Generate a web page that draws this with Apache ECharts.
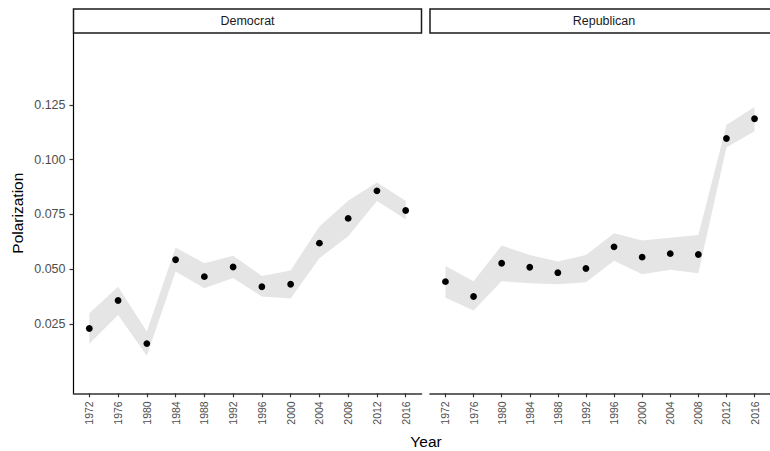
<!DOCTYPE html>
<html>
<head>
<meta charset="utf-8">
<script src="https://cdn.jsdelivr.net/npm/echarts@6/dist/echarts.min.js"></script>
<style>
html,body{margin:0;padding:0;background:#fff;}
#chart{width:770px;height:451px;}
</style>
</head>
<body>
<div id="chart"></div>
<script>
var years = [1972, 1976, 1980, 1984, 1988, 1992, 1996, 2000, 2004, 2008, 2012, 2016];
var yTicks = [0.025, 0.05, 0.075, 0.1, 0.125];
var panels = ['Democrat', 'Republican'];
var demPol  = [0.0229, 0.0357, 0.0160, 0.0543, 0.0466, 0.0510, 0.0420, 0.0431, 0.0619, 0.0732, 0.0858, 0.0768];
var demLow  = [0.0159, 0.0291, 0.0105, 0.0489, 0.0413, 0.0460, 0.0375, 0.0366, 0.0550, 0.0650, 0.0812, 0.0728];
var demHigh = [0.0299, 0.0420, 0.0215, 0.0599, 0.0527, 0.0561, 0.0469, 0.0494, 0.0695, 0.0813, 0.0896, 0.0813];
var repPol  = [0.0443, 0.0375, 0.0527, 0.0509, 0.0484, 0.0503, 0.0602, 0.0555, 0.0571, 0.0567, 0.1097, 0.1187];
var repLow  = [0.0370, 0.0311, 0.0445, 0.0436, 0.0431, 0.0440, 0.0539, 0.0477, 0.0497, 0.0482, 0.1056, 0.1130];
var repHigh = [0.0515, 0.0445, 0.0608, 0.0565, 0.0535, 0.0565, 0.0664, 0.0631, 0.0644, 0.0656, 0.1159, 0.1241];

var FONT = 'Liberation Sans, Arial, Helvetica, sans-serif';
var chart = echarts.init(document.getElementById('chart'), null, {renderer: 'svg'});

function pairs(xs, ys) { return xs.map(function (x, i) { return [x, ys[i]]; }); }

var grids = [
  {left: 73.5, top: 33, width: 348, height: 360.3},
  {left: 430, top: 33, width: 348, height: 360.3}
];

function xAxisFor(i) {
  return {
    type: 'value', gridIndex: i, min: 1969.8, max: 2018.2,
    axisLine: {show: true, onZero: false, lineStyle: {color: '#333333', width: 1.6}},
    axisTick: {show: true, length: 4, customValues: years, lineStyle: {color: '#333333', width: 1.2}},
    axisLabel: {show: true, customValues: years, rotate: 90, margin: 8, color: '#4d4d4d', fontSize: 10.5, fontFamily: FONT,
      formatter: function (v) { return String(v); }},
    splitLine: {show: false}
  };
}
function yAxisFor(i) {
  var ax = {
    type: 'value', gridIndex: i, min: -0.0067, max: 0.1579,
    splitLine: {show: false},
    axisLine: {show: i === 0, lineStyle: {color: '#000000', width: 1.2}},
    axisTick: {show: i === 0, length: 4, customValues: yTicks, lineStyle: {color: '#333333', width: 1.2}},
    axisLabel: {show: i === 0, customValues: yTicks, margin: 8, color: '#4d4d4d', fontSize: 12.5, fontFamily: FONT,
      formatter: function (v) { return v.toFixed(3); }}
  };
  if (i === 0) {
    ax.name = 'Polarization';
    ax.nameLocation = 'middle';
    ax.nameGap = 48;
    ax.nameTextStyle = {color: '#000000', fontSize: 15.5, fontFamily: FONT};
  }
  return ax;
}

var sets = [[demPol, demLow, demHigh], [repPol, repLow, repHigh]];
var series = [];
sets.forEach(function (s, i) {
  var low = s[1], high = s[2];
  series.push({
    type: 'custom', xAxisIndex: i, yAxisIndex: i, silent: true, z: 1,
    data: years.map(function (y, k) { return [y, low[k], high[k]]; }),
    encode: {x: 0, y: [1, 2]},
    renderItem: function (params, api) {
      if (params.dataIndex !== 0) return null;
      var top = [], bot = [];
      for (var k = 0; k < years.length; k++) {
        top.push(api.coord([years[k], high[k]]));
        bot.unshift(api.coord([years[k], low[k]]));
      }
      return {type: 'polygon', shape: {points: top.concat(bot)}, style: {fill: '#e5e5e5', stroke: null}};
    }
  });
  series.push({
    type: 'scatter', xAxisIndex: i, yAxisIndex: i, data: pairs(years, s[0]),
    symbolSize: 6.8, itemStyle: {color: '#000000', opacity: 1}, z: 5
  });
});

var graphics = [];
grids.forEach(function (g, i) {
  graphics.push({
    type: 'rect', shape: {x: g.left, y: 9, width: g.width, height: 24},
    style: {fill: '#ffffff', stroke: '#1a1a1a', lineWidth: 1.5}, z: 10
  });
  graphics.push({
    type: 'text', x: g.left + g.width / 2, y: 21,
    style: {text: panels[i], fill: '#1a1a1a', fontSize: 12.5, fontFamily: FONT, textAlign: 'center', textVerticalAlign: 'middle'},
    z: 11
  });
});
graphics.push({
  type: 'text', x: 426, y: 441,
  style: {text: 'Year', fill: '#000000', fontSize: 15.5, fontFamily: FONT, textAlign: 'center', textVerticalAlign: 'middle'},
  z: 11
});

chart.setOption({
  backgroundColor: '#ffffff',
  animation: false,
  grid: grids,
  xAxis: [xAxisFor(0), xAxisFor(1)],
  yAxis: [yAxisFor(0), yAxisFor(1)],
  series: series,
  graphic: graphics
});
</script>
</body>
</html>
